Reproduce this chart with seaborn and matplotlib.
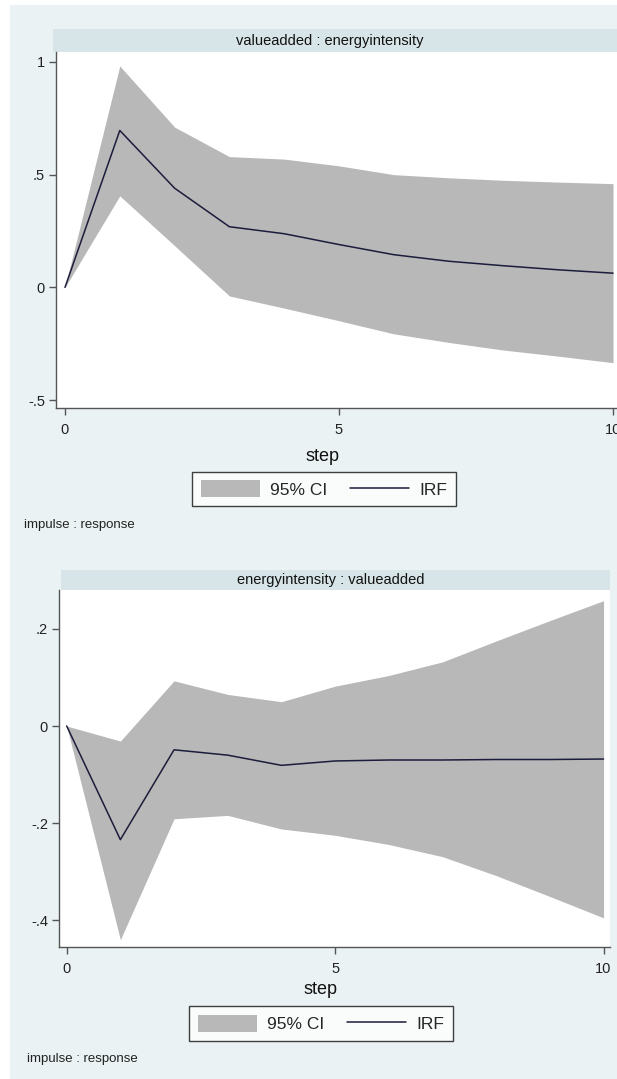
import numpy as np
import pandas as pd
import matplotlib
matplotlib.use("Agg")
import matplotlib.pyplot as plt
from matplotlib.patches import Rectangle, Patch
from matplotlib.lines import Line2D
import seaborn as sns

steps = list(range(11))

# Panel 1: valueadded : energyintensity
irf1 = [0.0, 0.696, 0.44, 0.269, 0.238, 0.19, 0.145, 0.116, 0.096, 0.078, 0.063]
upper1 = [0.0, 0.982, 0.711, 0.58, 0.569, 0.539, 0.50, 0.486, 0.475, 0.467, 0.46]
lower1 = [0.0, 0.406, 0.185, -0.038, -0.092, -0.148, -0.206, -0.244, -0.278, -0.305, -0.334]

# Panel 2: energyintensity : valueadded
irf2 = [0.0, -0.234, -0.049, -0.060, -0.081, -0.072, -0.070, -0.070, -0.069, -0.069, -0.068]
upper2 = [0.0, -0.031, 0.093, 0.065, 0.05, 0.082, 0.104, 0.132, 0.175, 0.217, 0.258]
lower2 = [0.0, -0.44, -0.191, -0.184, -0.212, -0.225, -0.244, -0.269, -0.308, -0.351, -0.395]

titles = ["valueadded : energyintensity", "energyintensity : valueadded"]
yticks1 = [-0.5, 0, 0.5, 1]
yticklabels1 = ["-.5", "0", ".5", "1"]
yticks2 = [-0.4, -0.2, 0, 0.2]
yticklabels2 = ["-.4", "-.2", "0", ".2"]
xticks = [0, 5, 10]
xticklabels = ["0", "5", "10"]

sns.set_theme(style="white")
plt.rcParams['font.family'] = ['Liberation Sans Narrow', 'Liberation Sans', 'DejaVu Sans']

W, H = 617, 1079
fig = plt.figure(figsize=(W / 100, H / 100), dpi=100)
fig.patch.set_facecolor("white")
BG = "#eaf2f3"
STRIP = "#d8e5e8"
BAND = "#b8b8b8"
LINE = "#1c1c3c"

# background panel
fig.patches.append(Rectangle((10 / W, 0), 1, 1 - 5 / H, transform=fig.transFigure,
                             facecolor=BG, edgecolor="none", zorder=-10))

def px_rect(x0, y0, x1, y1):
    return [x0 / W, 1 - y1 / H, (x1 - x0) / W, (y1 - y0) / H]

panels = [
    dict(rect=px_rect(56, 52, 622, 408), irf=irf1, up=upper1, lo=lower1,
         xlim=(-0.164, 10.164), ylim=(-0.535, 1.044), yt=yticks1, ytl=yticklabels1,
         strip=(53, 29, 640, 52), step_y=456, step_x=323,
         leg=(195, 471, 453, 507), imp=(24, 525)),
    dict(rect=px_rect(59, 590, 610, 947), irf=irf2, up=upper2, lo=lower2,
         xlim=(-0.143, 10.12), ylim=(-0.455, 0.28), yt=yticks2, ytl=yticklabels2,
         strip=(61, 570, 610, 590), step_y=990, step_x=321,
         leg=(195, 1007, 447, 1040), imp=(27, 1059)),
]

for i, p in enumerate(panels):
    ax = fig.add_axes(p["rect"])
    ax.set_facecolor("white")
    df = pd.DataFrame({"step": steps, "irf": p["irf"], "lo": p["lo"], "up": p["up"]})
    ax.fill_between(df["step"], df["lo"], df["up"], color=BAND, linewidth=0, zorder=1)
    sns.lineplot(data=df, x="step", y="irf", ax=ax, color=LINE, linewidth=1.1, zorder=3)
    ax.set_xlim(*p["xlim"])
    ax.set_ylim(*p["ylim"])
    ax.set_xticks(xticks)
    ax.set_xticklabels(xticklabels)
    ax.set_yticks(p["yt"])
    ax.set_yticklabels(p["ytl"])
    ax.set_xlabel("")
    ax.set_ylabel("")
    for s in ["top", "right"]:
        ax.spines[s].set_visible(False)
    for s in ["left", "bottom"]:
        ax.spines[s].set_color("#555555")
        ax.spines[s].set_linewidth(1.0)
    ax.tick_params(axis="both", which="both", direction="out", length=5, width=1,
                   color="#555555", labelsize=10.5, labelcolor="#222222", pad=3,
                   left=True, bottom=True)
    ax.tick_params(axis="x", pad=6)

    # title strip
    x0, y0, x1, y1 = p["strip"]
    fig.patches.append(Rectangle((x0 / W, 1 - y1 / H), (x1 - x0) / W, (y1 - y0) / H,
                                 transform=fig.transFigure, facecolor=STRIP,
                                 edgecolor="none", zorder=-5))
    fig.text(((x0 + min(x1, 617)) / 2 - 5) / W, 1 - ((y0 + y1) / 2) / H, titles[i],
             ha="center", va="center", fontsize=10.5, color="#111111")

    # step label
    fig.text(p["step_x"] / W, 1 - p["step_y"] / H, "step", ha="center", va="center",
             fontsize=13, color="#111111")

    # legend
    lx0, ly0, lx1, ly1 = p["leg"]
    handles = [Patch(facecolor=BAND, edgecolor="none"),
               Line2D([0], [0], color=LINE, linewidth=1.1)]
    leg = fig.legend(handles, ["95% CI", "IRF"], loc="center",
                     bbox_to_anchor=(((lx0 + lx1) / 2) / W, 1 - ((ly0 + ly1) / 2) / H),
                     ncol=2, frameon=True, fancybox=False, fontsize=12.5,
                     handlelength=3.4, handleheight=1.1, columnspacing=1.3,
                     handletextpad=0.6, borderpad=0.5, borderaxespad=0)
    leg.get_frame().set_edgecolor("#111111")
    leg.get_frame().set_linewidth(1.0)
    leg.get_frame().set_facecolor("white")

    # impulse : response
    fig.text(p["imp"][0] / W, 1 - p["imp"][1] / H, "impulse : response",
             ha="left", va="center", fontsize=9.5, color="#222222")

fig.savefig("out.png", dpi=100, facecolor=fig.get_facecolor())
